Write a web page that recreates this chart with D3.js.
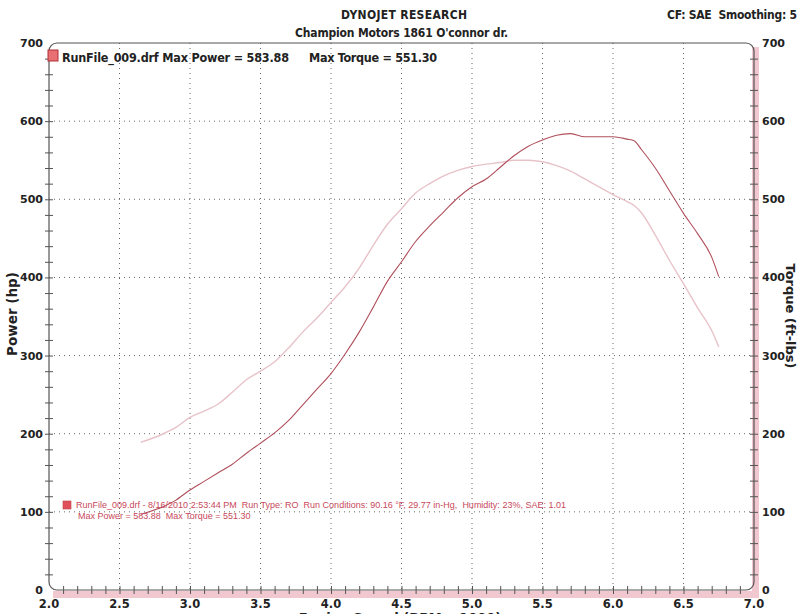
<!DOCTYPE html>
<html>
<head>
<meta charset="utf-8">
<script src="https://cdn.jsdelivr.net/npm/d3@7"></script>
<style>
  body { margin: 0; background: #fff; }
  svg { display: block; }
  text { white-space: pre; }
</style>
</head>
<body>
<div id="chart"></div>
<script>
// data
var rpm = [2.65, 2.8, 2.9, 3.0, 3.1, 3.2, 3.3, 3.4, 3.5, 3.6, 3.7, 3.8, 3.9, 4.0, 4.1, 4.2, 4.3, 4.4, 4.5, 4.6,
           4.7, 4.8, 4.9, 5.0, 5.1, 5.2, 5.3, 5.4, 5.5, 5.6, 5.7, 5.8, 5.9, 6.0, 6.1, 6.15, 6.2, 6.3, 6.4, 6.5,
           6.6, 6.7, 6.75];
var power = [97, 106, 115, 128, 139, 150, 161, 175, 188, 201, 217, 237, 257, 277, 302, 330, 362, 395, 420, 446,
             466, 484, 502, 516, 526, 541, 556, 568, 576, 582, 584, 580, 580, 580, 577, 575, 564, 540, 511, 482,
             456, 426, 401];
var torque = [189, 199, 208, 221, 229, 238, 253, 269, 280, 292, 310, 330, 348, 368, 388, 412, 441, 468, 488, 508,
              520, 530, 537, 542, 545, 547, 550, 550, 548, 543, 536, 526, 516, 506, 497, 492, 483, 454, 422, 392,
              361, 332, 311];
var xTicks = [2.0, 2.5, 3.0, 3.5, 4.0, 4.5, 5.0, 5.5, 6.0, 6.5, 7.0];
var yTicks = [0, 100, 200, 300, 400, 500, 600, 700];

var width = 800, height = 614;
var pLeft = 49, pRight = 754, pTop = 43, pBottom = 590;

var svg = d3.select("#chart").append("svg")
    .attr("width", width)
    .attr("height", height)
    .style("font-family", "'DejaVu Sans', sans-serif");

var x = d3.scaleLinear().domain([2, 7]).range([pLeft, pRight]);
var y = d3.scaleLinear().domain([0, 700]).range([pBottom, pTop]);

// pink shadow bands along right and bottom axes
svg.append("rect")
    .attr("x", pRight - 2).attr("y", pTop + 4)
    .attr("width", 7).attr("height", pBottom - pTop + 4)
    .style("fill", "#f2c8d0");
svg.append("rect")
    .attr("x", pLeft + 4).attr("y", pBottom + 1)
    .attr("width", pRight - pLeft + 1).attr("height", 7)
    .style("fill", "#f2c8d0");

// dotted grid
svg.append("g").selectAll("line")
    .data(xTicks.slice(1, -1))
    .enter().append("line")
    .attr("x1", function (d) { return x(d); })
    .attr("x2", function (d) { return x(d); })
    .attr("y1", pTop).attr("y2", pBottom)
    .style("stroke", "#666")
    .style("stroke-width", 1)
    .style("stroke-dasharray", "1,4");

svg.append("g").selectAll("line")
    .data(yTicks.slice(1, -1))
    .enter().append("line")
    .attr("x1", pLeft).attr("x2", pRight)
    .attr("y1", function (d) { return y(d); })
    .attr("y2", function (d) { return y(d); })
    .style("stroke", "#666")
    .style("stroke-width", 1)
    .style("stroke-dasharray", "1,4");

// frame with rounded corners
svg.append("rect")
    .attr("x", pLeft).attr("y", pTop)
    .attr("width", pRight - pLeft).attr("height", pBottom - pTop)
    .attr("rx", 8).attr("ry", 8)
    .style("fill", "none")
    .style("stroke", "#555")
    .style("stroke-width", 1.2);

// minor ticks on the axes
var xAxis = d3.axisBottom(x).tickValues(d3.range(21, 70).map(function (d) { return d / 10; }))
    .tickSize(8).tickFormat("");
svg.append("g")
    .attr("transform", "translate(0," + (pBottom - 4) + ")")
    .call(xAxis)
    .call(function (g) { g.select(".domain").remove(); })
    .selectAll("line").style("stroke", "#555");

var yMinor = d3.range(20, 700, 20);
var yAxisL = d3.axisRight(y).tickValues(yMinor).tickSize(8).tickFormat("");
svg.append("g")
    .attr("transform", "translate(" + (pLeft - 4) + ",0)")
    .call(yAxisL)
    .call(function (g) { g.select(".domain").remove(); })
    .selectAll("line").style("stroke", "#555");
var yAxisR = d3.axisRight(y).tickValues(yMinor).tickSize(8).tickFormat("");
svg.append("g")
    .attr("transform", "translate(" + (pRight - 4) + ",0)")
    .call(yAxisR)
    .call(function (g) { g.select(".domain").remove(); })
    .selectAll("line").style("stroke", "#555");

// tick labels
svg.append("g").selectAll("text")
    .data(xTicks)
    .enter().append("text")
    .attr("x", function (d) { return x(d); })
    .attr("y", 608)
    .attr("text-anchor", "middle")
    .style("font-size", "11.5px")
    .style("font-weight", "bold")
    .style("fill", "#222")
    .text(function (d) { return d.toFixed(1); });

svg.append("g").selectAll("text")
    .data(yTicks)
    .enter().append("text")
    .attr("x", 43)
    .attr("y", function (d) { return y(d) + 4; })
    .attr("text-anchor", "end")
    .style("font-size", "11px")
    .style("font-weight", "bold")
    .style("fill", "#222")
    .text(function (d) { return d; });

svg.append("g").selectAll("text")
    .data(yTicks)
    .enter().append("text")
    .attr("x", 762)
    .attr("y", function (d) { return y(d) + 4; })
    .attr("text-anchor", "start")
    .style("font-size", "11px")
    .style("font-weight", "bold")
    .style("fill", "#222")
    .text(function (d) { return d; });

// axis titles
svg.append("text")
    .attr("transform", "translate(17,314) rotate(-90)")
    .attr("text-anchor", "middle")
    .style("font-size", "13.5px")
    .style("font-weight", "bold")
    .style("fill", "#222")
    .text("Power (hp)");

svg.append("text")
    .attr("transform", "translate(786,316) rotate(90)")
    .attr("text-anchor", "middle")
    .style("font-size", "13px")
    .style("font-weight", "bold")
    .style("fill", "#222")
    .text("Torque (ft-lbs)");

// x title sits mostly below the page edge, as on the scan
svg.append("text")
    .attr("x", 400).attr("y", 622)
    .attr("text-anchor", "middle")
    .style("font-size", "13px")
    .style("font-weight", "bold")
    .style("fill", "#222")
    .text("Engine Speed (RPM x 1000)");

// titles
svg.append("text")
    .attr("x", 341).attr("y", 19)
    .style("font-family", "'DejaVu Sans Condensed', 'DejaVu Sans', sans-serif")
    .style("font-size", "12px")
    .style("font-weight", "bold")
    .style("fill", "#222")
    .attr("textLength", 126)
    .text("DYNOJET RESEARCH");

svg.append("text")
    .attr("x", 295).attr("y", 37)
    .style("font-family", "'DejaVu Sans Condensed', 'DejaVu Sans', sans-serif")
    .style("font-size", "12px")
    .style("font-weight", "bold")
    .style("fill", "#222")
    .attr("textLength", 213)
    .text("Champion Motors 1861 O'connor dr.");

svg.append("text")
    .attr("x", 667).attr("y", 19)
    .style("font-family", "'DejaVu Sans Condensed', 'DejaVu Sans', sans-serif")
    .style("font-size", "12px")
    .style("font-weight", "bold")
    .style("fill", "#222")
    .attr("textLength", 130)
    .text("CF: SAE  Smoothing: 5");

// top legend
svg.append("rect")
    .attr("x", 48).attr("y", 50)
    .attr("width", 10).attr("height", 11)
    .style("fill", "#e86f72")
    .style("stroke", "#b03038")
    .style("stroke-width", 1);

svg.append("text")
    .attr("x", 62).attr("y", 62)
    .style("font-family", "'DejaVu Sans Condensed', 'DejaVu Sans', sans-serif")
    .style("font-size", "12.5px")
    .style("font-weight", "bold")
    .style("fill", "#222")
    .attr("textLength", 227)
    .text("RunFile_009.drf Max Power = 583.88");

svg.append("text")
    .attr("x", 309).attr("y", 62)
    .style("font-family", "'DejaVu Sans Condensed', 'DejaVu Sans', sans-serif")
    .style("font-size", "12.5px")
    .style("font-weight", "bold")
    .style("fill", "#222")
    .attr("textLength", 128)
    .text("Max Torque = 551.30");

// curves
var line = d3.line()
    .x(function (d) { return x(d[0]); })
    .y(function (d) { return y(d[1]); })
    .curve(d3.curveMonotoneX);

svg.append("path")
    .datum(d3.zip(rpm, torque))
    .attr("d", line)
    .style("fill", "none")
    .style("stroke", "#e7c3c9")
    .style("stroke-width", 1.4);

svg.append("path")
    .datum(d3.zip(rpm, power))
    .attr("d", line)
    .style("fill", "none")
    .style("stroke", "#b0505c")
    .style("stroke-width", 1.1);

// bottom run info legend
svg.append("rect")
    .attr("x", 63).attr("y", 501)
    .attr("width", 8).attr("height", 8)
    .style("fill", "#e0505a")
    .style("stroke", "#c04048")
    .style("stroke-width", 0.6);

svg.append("text")
    .attr("x", 76).attr("y", 508)
    .style("font-family", "'Liberation Sans', Arial, sans-serif")
    .style("font-size", "9px")
    .style("fill", "#c8485a")
    .attr("textLength", 490)
    .text("RunFile_009.drf - 8/16/2010 2:53:44 PM  Run Type: RO  Run Conditions: 90.16 \u00b0F, 29.77 in-Hg,  Humidity: 23%, SAE: 1.01");

svg.append("text")
    .attr("x", 78).attr("y", 519)
    .style("font-family", "'Liberation Sans', Arial, sans-serif")
    .style("font-size", "9px")
    .style("fill", "#c8485a")
    .text("Max Power = 583.88  Max Torque = 551.30");
</script>
</body>
</html>
